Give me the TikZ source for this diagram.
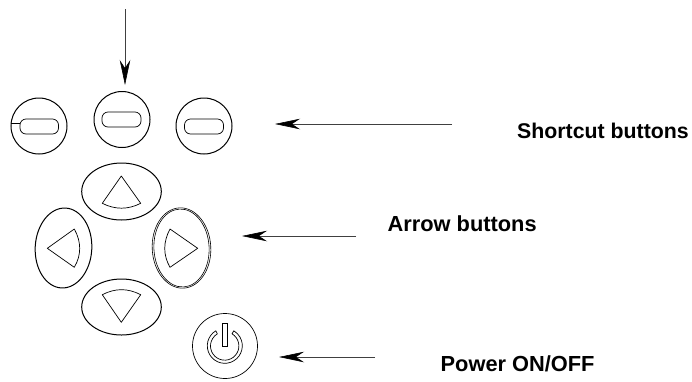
\documentclass[tikz,border=0pt]{standalone}
\usepackage{fontspec}
\setmainfont{Liberation Sans}
\usetikzlibrary{arrows.meta}
\tikzset{
  x=1pt,y=-1pt,
  btn/.style={draw=black,line width=1pt},
  dbl/.style={draw=black,line width=0.6pt},
  thin line/.style={draw=black,line width=0.7pt},
  callout/.style={draw=black!75,line width=0.6pt,-{Stealth[length=25pt,width=10.5pt,inset=8pt,color=black]}},
  lbl/.style={font=\bfseries\fontsize{21.3}{24}\selectfont,anchor=base west,inner sep=0pt,text=black},
  lblb/.style={lbl,font=\bfseries\fontsize{21.8}{24}\selectfont}
}
\begin{document}
\begin{tikzpicture}
\useasboundingbox (0,0) rectangle (692,381);
% shortcut buttons
\node[btn,circle,minimum size=56pt,inner sep=0pt] (sl) at (39,126) {};
\node[btn,circle,minimum size=56pt,inner sep=0pt] (sm) at (122,119.5) {};
\node[btn,circle,minimum size=56pt,inner sep=0pt] (sr) at (204,126) {};
\draw[thin line,rounded corners=6pt] (20,119) rectangle (58.5,134);
\draw[thin line,rounded corners=6pt] (102,112) rectangle (141,127);
\draw[thin line,rounded corners=6pt] (184.5,119) rectangle (223.5,134);
\draw[thin line] (11,123) -- (20,123);
% arrow buttons
\draw[btn] (121.5,191.5) ellipse [x radius=39.8,y radius=28.5];
\draw[btn] (121.5,307) ellipse [x radius=39.8,y radius=28];
\draw[btn,rotate around={-3:(63.5,248)}] (63.5,248) ellipse [x radius=28.3,y radius=40];
\draw[dbl,rotate around={3:(181.5,248)}] (181.5,248) ellipse [x radius=29.3,y radius=40.2];
\draw[dbl,rotate around={3:(181.5,248)}] (181.5,248) ellipse [x radius=27.6,y radius=39];
\draw[thin line,line join=round] (121.3,176) -- (140.7,203.3) .. controls (128,209.8) and (115,209.8) .. (102.3,203.3) -- cycle;
\draw[thin line,line join=round] (121.3,322.3) -- (140.7,294.7) .. controls (128,288) and (115,288) .. (102.3,294.7) -- cycle;
\draw[thin line,line join=round] (47.3,248.3) -- (74.3,229) .. controls (81.5,242) and (81.5,255) .. (74.3,267.3) -- cycle;
\draw[thin line,line join=round] (197.7,248.3) -- (170,229) .. controls (163,242) and (163,255) .. (170,267.3) -- cycle;
% power
\node[draw=black,line width=0.7pt,circle,minimum size=65pt,inner sep=0pt] (pw) at (225,346) {};
\coordinate (pc) at (224.8,345.8);
\draw[thin line,line join=round] (pc) ++(239:17.5) arc [start angle=239,end angle=-59,radius=17.5]
  -- ++(-1.8,3) arc [start angle=-59,end angle=239,radius=14.2] -- cycle;
\draw[thin line,fill=white] (222.7,323.5) rectangle (227.3,346.5);
% callouts
\coordinate (a0) at (125,9); \coordinate (a1) at (125,85);
\coordinate (b0) at (452,124); \coordinate (b1) at (275,124);
\coordinate (c0) at (356,236); \coordinate (c1) at (242,236);
\coordinate (d0) at (375,357); \coordinate (d1) at (279,357);
\draw[callout] (a0) -- (a1);
\draw[callout] (b0) -- (b1);
\draw[callout] (c0) -- (c1);
\draw[callout] (d0) -- (d1);
% labels
\node[lbl] (t1) at (517,138) {Shortcut buttons};
\node[lblb] (t2) at (387.5,231.5) {Arrow buttons};
\node[lblb] (t3) at (440.5,371) {Power ON/OFF};
\end{tikzpicture}
\end{document}
